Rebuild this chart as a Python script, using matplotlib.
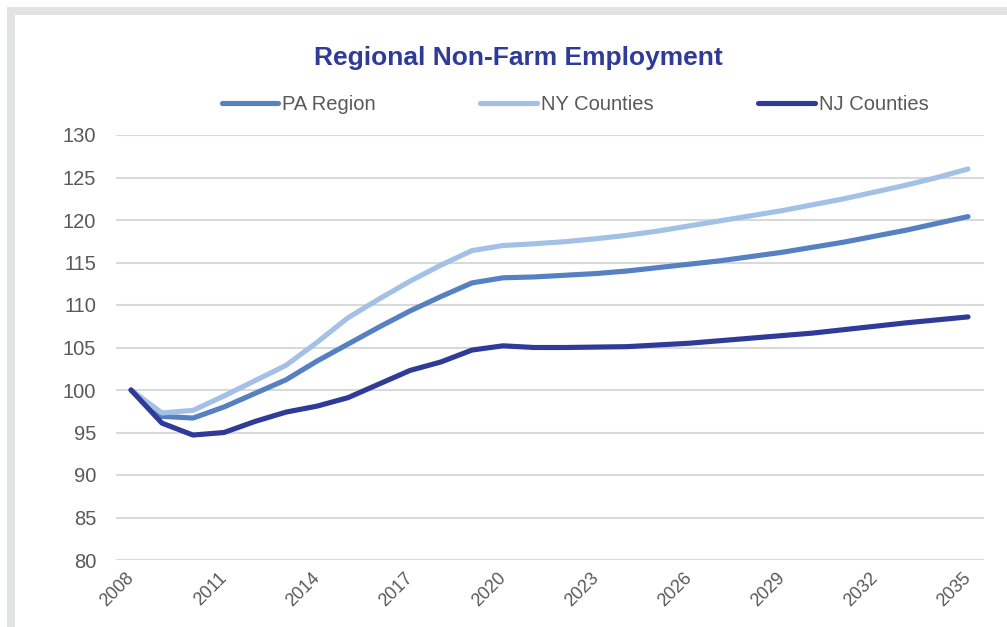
import matplotlib
matplotlib.use("Agg")
import matplotlib.pyplot as plt
from matplotlib.patches import Rectangle

plt.rcParams['font.family'] = ['Liberation Sans', 'DejaVu Sans']

years = list(range(2008, 2036))

pa_region = [100.0, 96.9, 96.7, 98.0, 99.6, 101.2, 103.4, 105.4, 107.4, 109.3,
             111.0, 112.6, 113.2, 113.3, 113.5, 113.7, 114.0, 114.4, 114.8, 115.2,
             115.7, 116.2, 116.8, 117.4, 118.1, 118.8, 119.6, 120.4]
ny_counties = [100.0, 97.3, 97.6, 99.3, 101.1, 102.9, 105.6, 108.5, 110.7, 112.8,
               114.7, 116.4, 117.0, 117.2, 117.45, 117.8, 118.2, 118.7, 119.3, 119.9,
               120.5, 121.1, 121.8, 122.5, 123.3, 124.1, 125.0, 126.0]
nj_counties = [100.0, 96.1, 94.7, 95.0, 96.3, 97.4, 98.1, 99.1, 100.7, 102.3,
               103.3, 104.7, 105.2, 105.0, 105.0, 105.05, 105.1, 105.3, 105.5, 105.8,
               106.1, 106.4, 106.7, 107.1, 107.5, 107.9, 108.25, 108.6]

series_names = ["PA Region", "NY Counties", "NJ Counties"]
series_colors = ["#5580C1", "#A3C1E6", "#2F3A99"]
x_tick_years = list(range(2008, 2036, 3))
y_ticks = list(range(80, 131, 5))

W, H = 1007, 627
fig = plt.figure(figsize=(W / 100, H / 100), dpi=100)
fig.patch.set_facecolor("white")

# light grey frame along the top and left edges
frame_col = "#E1E3E3"
fig.add_artist(Rectangle((7 / W, 0), 8 / W, 1 - 7 / H, transform=fig.transFigure,
                         facecolor=frame_col, edgecolor="none"))
fig.add_artist(Rectangle((7 / W, 1 - 15 / H), 1, 8 / H, transform=fig.transFigure,
                         facecolor=frame_col, edgecolor="none"))

left, right, top, bottom = 115.5, 983.5, 135, 560
ax = fig.add_axes([left / W, 1 - bottom / H, (right - left) / W, (bottom - top) / H])

for vals, name, col in zip([pa_region, ny_counties, nj_counties], series_names, series_colors):
    ax.plot(years, vals, color=col, lw=3.7, label=name,
            solid_capstyle="round", solid_joinstyle="round", zorder=3)

ax.set_xlim(2007.5, 2035.5)
ax.set_ylim(80, 130)
ax.set_yticks(y_ticks)
ax.set_xticks(x_tick_years)
ax.set_xticklabels([str(y) for y in x_tick_years], rotation=45, ha="right",
                   va="center", rotation_mode="anchor")
ax.grid(axis="y", color="#D9D9D9", lw=1.5, zorder=0)
ax.grid(axis="x", visible=False)
for s in ax.spines.values():
    s.set_visible(False)
ax.tick_params(axis="both", length=0, labelcolor="#595959")
ax.tick_params(axis="y", pad=14, labelsize=14.5)
ax.tick_params(axis="x", pad=11, labelsize=13)

fig.text(518 / W, 1 - 58 / H, "Regional Non-Farm Employment", ha="center", va="center",
         fontsize=19, fontweight="bold", color="#2F3A99")

leg = fig.legend(loc="center", bbox_to_anchor=(575 / W, 1 - 105 / H), ncol=3,
                 frameon=False, fontsize=14.5, handlelength=2.8, handletextpad=0.2,
                 columnspacing=5.2, borderpad=0)
for t in leg.get_texts():
    t.set_color("#595959")

fig.savefig("out.png", dpi=100, facecolor="white")
